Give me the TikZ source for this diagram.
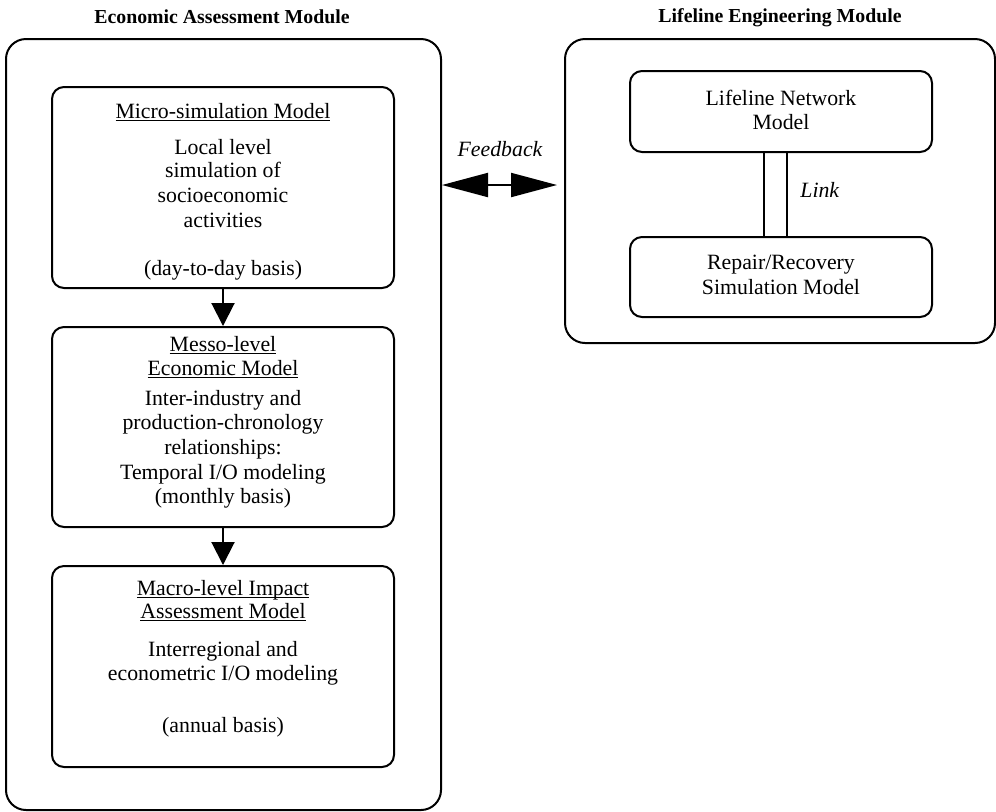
\documentclass[tikz,border=0pt]{standalone}
\usepackage{fontspec}
\setmainfont{Liberation Serif}
\usetikzlibrary{arrows.meta}
\newcommand\hdul[1]{\underline{\smash{#1}}}
\begin{document}
\begin{tikzpicture}[x=0.5pt,y=-0.5pt,
  outerbox/.style={draw,line width=1pt,rounded corners=10pt,inner sep=0pt},
  innerbox/.style={draw,line width=1pt,rounded corners=6pt,inner sep=0pt},
  txt/.style={anchor=base,inner sep=0pt,font=\fontsize{10.9}{12}\selectfont},
  ttl/.style={anchor=base,inner sep=0pt,font=\fontsize{9.9}{12}\selectfont\bfseries},
  itl/.style={anchor=base,inner sep=0pt,font=\fontsize{10.9}{12}\selectfont\itshape},
  flow/.style={line width=1pt,-{Triangle[length=11.5pt,width=11.5pt]}},
  fb/.style={line width=1pt,{Triangle[length=23pt,width=12pt]}-{Triangle[length=23pt,width=12pt]}}]
\path[fill=white,use as bounding box] (0,0) rectangle (996,811);

% titles
\node[ttl] (t_eam) at (222,23) {Economic Assessment Module};
\node[ttl] (t_lem) at (780,22) {Lifeline Engineering Module};

% outer modules
\node[outerbox,minimum width=217.5pt,minimum height=385.5pt] (eam) at (223.5,424.5) {};
\node[outerbox,minimum width=215pt,minimum height=152pt] (lem) at (780,191) {};

% inner boxes
\node[innerbox,minimum width=171pt,minimum height=100.5pt] (micro) at (223,187.5) {};
\node[innerbox,minimum width=171pt,minimum height=100pt] (messo) at (223,427) {};
\node[innerbox,minimum width=171pt,minimum height=100.5pt] (macro) at (223,666.5) {};
\node[innerbox,minimum width=151pt,minimum height=40.5pt] (lnm) at (781,111.5) {};
\node[innerbox,minimum width=151pt,minimum height=40pt] (rep) at (781,277) {};
\node[draw,line width=0.8pt,inner sep=0pt,minimum width=11.5pt,minimum height=42.5pt] (link) at (775.5,194.5) {};

% micro text
\node[txt] (m0) at (223,118) {\hdul{Micro-simulation Model}};
\node[txt] (m1) at (223,154) {Local level};
\node[txt] (m2) at (223,177) {simulation of};
\node[txt] (m3) at (223,202) {socioeconomic};
\node[txt] (m4) at (223,227) {activities};
\node[txt] (m5) at (223,275) {(day-to-day basis)};

% messo text
\node[txt] (s0) at (223,351) {\hdul{Messo-level}};
\node[txt] (s1) at (223,375) {\hdul{Economic Model}};
\node[txt] (s2) at (223,405) {Inter-industry and};
\node[txt] (s3) at (223,429) {production-chronology};
\node[txt] (s4) at (223,454) {relationships:};
\node[txt] (s5) at (223,479) {Temporal I/O modeling};
\node[txt] (s6) at (223,503) {(monthly basis)};

% macro text
\node[txt] (a0) at (223,595) {\hdul{Macro-level Impact}};
\node[txt] (a1) at (223,618) {\hdul{Assessment Model}};
\node[txt] (a2) at (223,656) {Interregional and};
\node[txt] (a3) at (223,680) {econometric I/O modeling};
\node[txt] (a4) at (223,732) {(annual basis)};

% lifeline text
\node[txt] (l0) at (781,105) {Lifeline Network};
\node[txt] (l1) at (781,129) {Model};
\node[txt] (r0) at (781,269) {Repair/Recovery};
\node[txt] (r1) at (781,294) {Simulation Model};

% labels
\node[itl] (lbl_fb) at (500,156) {Feedback};
\node[itl,anchor=base west] (lbl_link) at (800,197) {Link};

% connectors
\draw[flow] (micro.south) -- (messo.north);
\draw[flow] (messo.south) -- (macro.north);
\coordinate (fy) at (0,185);
\draw[fb] (eam.east |- fy) -- ([xshift=-3.5pt]lem.west |- fy);
\end{tikzpicture}
\end{document}
